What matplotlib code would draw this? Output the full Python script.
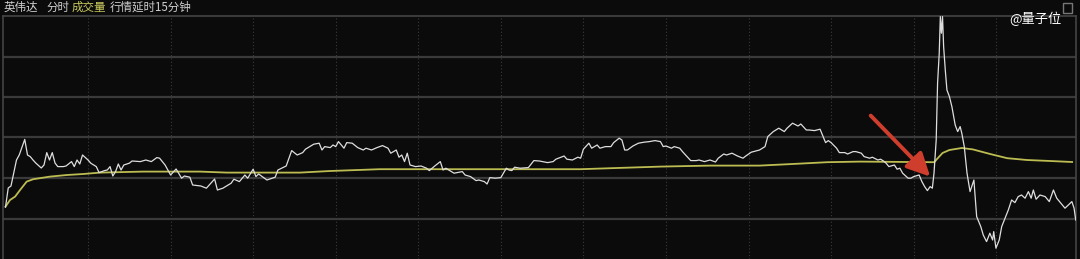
import matplotlib
matplotlib.use("Agg")
import matplotlib.pyplot as plt
from matplotlib.patches import FancyArrowPatch, Rectangle

plt.rcParams['font.family'] = ['Noto Sans CJK SC', 'DejaVu Sans']

# 分时价格（分钟, 价格）
price_min = [0, 1, 2, 4, 5, 7, 8, 9, 10, 11, 13, 14, 15, 16, 17, 18, 19, 21, 22, 24,
             25, 26, 27, 28, 30, 31, 33, 34, 36, 37, 38, 39, 40, 41, 42, 43, 45, 46, 49, 51,
             53, 55, 56, 58, 60, 62, 64, 65, 67, 68, 71, 73, 76, 77, 79, 82, 83, 85, 87, 88,
             90, 91, 92, 95, 98, 99, 102, 104, 106, 108, 109, 112, 114, 115, 116, 118, 119, 120, 121, 123,
             124, 126, 128, 130, 131, 133, 135, 137, 139, 140, 142, 143, 144, 145, 146, 147, 149, 151, 153, 154,
             156, 158, 159, 160, 162, 163, 166, 167, 169, 171, 172, 174, 175, 176, 178, 180, 182, 183, 184, 185,
             187, 190, 192, 194, 197, 199, 200, 203, 204, 206, 208, 209, 210, 212, 213, 215, 216, 218, 220, 221,
             223, 224, 225, 226, 228, 230, 232, 234, 236, 238, 239, 240, 242, 243, 245, 246, 249, 251, 252, 254,
             256, 258, 259, 261, 262, 264, 266, 268, 269, 271, 274, 276, 277, 279, 281, 283, 284, 286, 288, 289,
             291, 292, 294, 296, 297, 298, 299, 300, 302, 303, 305, 306, 308, 309, 311, 312, 314, 315, 317, 318,
             319, 320, 321, 323, 324, 325, 326, 328, 329, 330, 332, 333, 334, 335, 336, 336.8, 337.4, 338.2, 338.7, 339.3,
             339.7, 340.1, 340.5, 340.9, 341.5, 342.1, 343.0, 343.9, 345.1, 346.0, 346.9, 347.5, 348.4, 349.4, 350.5, 351.9,
             352.9, 354.4, 355.3, 356.5, 357.7, 358.7, 359.1, 359.9, 361.1, 362.0, 363.2, 364.4, 365.6, 366.8, 368.0, 369.2,
             370.5, 371.7, 372.7, 373.5, 374.5, 375.9, 377.8, 379.3, 380.8, 382.0, 383.5, 385.0, 386.2, 387.5, 388.3, 388.9]
price = [100.59, 101.55, 101.65, 102.95, 103.20, 103.98, 103.20, 103.12, 102.95, 102.80, 102.55, 102.70, 103.32, 102.95, 103.32, 102.80, 102.62, 102.62, 102.65, 102.87,
         102.62, 102.95, 102.75, 103.20, 102.95, 102.79, 102.62, 102.32, 102.42, 102.45, 102.62, 102.15, 102.37, 102.75, 102.45, 102.70, 102.79, 102.90, 102.87, 102.95,
         102.87, 103.07, 103.04, 102.70, 102.20, 102.50, 102.04, 102.15, 102.09, 101.70, 101.65, 101.54, 102.00, 101.45, 101.54, 101.79, 101.99, 101.87, 102.20, 102.04,
         102.49, 102.12, 102.25, 101.95, 102.09, 102.45, 102.65, 103.42, 103.20, 103.32, 103.49, 103.74, 103.79, 103.45, 103.62, 103.57, 103.70, 103.62, 103.87, 103.54,
         103.82, 103.79, 103.57, 103.45, 103.54, 103.45, 103.57, 103.67, 103.54, 103.29, 103.45, 103.09, 103.20, 102.87, 103.29, 102.70, 102.62, 102.65, 102.54, 102.42,
         102.65, 102.87, 102.45, 102.54, 102.37, 102.29, 102.37, 102.20, 102.12, 101.92, 101.95, 101.87, 101.75, 102.07, 102.04, 102.07, 102.54, 102.45, 102.42, 102.59,
         102.54, 102.57, 102.92, 102.90, 102.82, 102.87, 102.99, 103.15, 102.99, 102.95, 103.09, 103.04, 103.49, 103.79, 103.54, 103.70, 103.54, 103.62, 103.62, 103.82,
         104.04, 103.95, 103.45, 103.45, 103.65, 103.79, 103.84, 103.87, 103.92, 103.87, 103.62, 103.65, 103.54, 103.62, 103.54, 103.37, 102.92, 102.92, 102.95, 102.87,
         102.95, 102.85, 103.04, 103.25, 103.20, 103.29, 103.15, 103.04, 103.15, 103.34, 103.45, 103.62, 104.12, 104.37, 104.54, 104.37, 104.54, 104.79, 104.65, 104.75,
         104.45, 104.45, 104.42, 104.49, 104.15, 103.82, 103.92, 103.82, 103.54, 103.32, 103.32, 103.25, 103.37, 103.37, 103.29, 103.12, 103.04, 103.09, 102.95, 102.99,
         102.90, 102.79, 102.62, 102.70, 102.49, 102.54, 102.29, 102.04, 102.04, 102.12, 102.20, 101.87, 101.62, 101.42, 101.62, 101.54, 102.29, 103.95, 106.79, 108.29,
         110.12, 109.29, 110.12, 108.62, 107.45, 106.45, 106.12, 105.62, 104.70, 104.37, 104.62, 104.29, 103.62, 102.29, 101.37, 101.95,
         100.12, 99.62, 99.20, 98.87, 99.29, 98.95, 99.37, 98.54, 98.95, 99.62, 100.04, 100.45, 100.95, 100.82, 101.12, 101.20,
         101.04, 101.37, 101.04, 101.45, 100.99, 101.20, 101.12, 100.87, 101.45, 101.04, 100.79, 100.54, 100.70, 100.87, 100.54, 99.95]

# 均价线
avg_min = [0, 1.65, 3.5, 5.3, 7.7, 10.1, 16.2, 22.3, 28.3, 34.4, 50, 70.7, 80.4, 107, 118, 136,
           209, 220, 238, 256, 274, 286, 298.6, 310.5, 337.5, 338.5, 340.5, 343, 347.5, 351.5,
           357.8, 364, 371.2, 379.6, 387.6]
avg_price = [100.62, 100.95, 101.12, 101.45, 101.87, 101.99, 102.12, 102.20, 102.25, 102.32, 102.37, 102.37, 102.32, 102.32, 102.40, 102.49,
             102.49, 102.54, 102.62, 102.67, 102.67, 102.75, 102.84, 102.87, 102.84, 103.00, 103.30, 103.45, 103.55, 103.48,
             103.25, 103.04, 102.95, 102.90, 102.85]

grid_levels = [100, 102.05, 104.1, 106.1, 108.1]
time_ticks = [30, 60, 90, 120, 150, 180, 210, 240, 270, 300, 330, 360]
arrow_from = (314.4, 105.17)
arrow_to = (336.0, 102.12)

bg = '#0b0b0b'
fig = plt.figure(figsize=(10.8, 2.59), dpi=100, facecolor=bg)
ax = fig.add_axes([3 / 1080, 0, 1073 / 1080, 1 - 16 / 259])
ax.set_facecolor(bg)
ax.set_xlim(-0.9, 389.0)
ax.set_ylim(98.0, 110.15)

for lv in grid_levels:
    ax.axhline(lv, color='#3a3a3a', lw=1.6, zorder=1)
for t in time_ticks:
    ax.axvline(t, color='#3a3a3a', lw=0.8, ls=(0, (1, 2)), zorder=1)

ax.plot(avg_min, avg_price, color='#bcbc52', lw=1.3, zorder=3)
ax.plot(price_min, price, color='#dedede', lw=0.9, zorder=4)

ax.add_patch(FancyArrowPatch(arrow_from, arrow_to, arrowstyle='-|>,head_length=14,head_width=7',
                             color='#cf3d2c', lw=2.8, zorder=5, shrinkA=0, shrinkB=0))

ax.set_xticks([])
ax.set_yticks([])
for side in ['left', 'top', 'right']:
    ax.spines[side].set_color('#444444')
    ax.spines[side].set_linewidth(1.2)
ax.spines['bottom'].set_visible(False)

# 顶部标题
hy = 1 - 7.5 / 259
fig.text(4 / 1080, hy, '英伟达', color='#cfcfcf', fontsize=8.3, va='center', ha='left')
fig.text(46 / 1080, hy, '分时', color='#cfcfcf', fontsize=8.3, va='center', ha='left')
fig.text(72 / 1080, hy, '成交量', color='#c9c95e', fontsize=8.3, va='center', ha='left')
fig.text(110 / 1080, hy, '行情延时15分钟', color='#cfcfcf', fontsize=8.3, va='center', ha='left')

fig.text(1062 / 1080, 1 - 19 / 259, '@量子位', color='#ffffff', fontsize=9.5, va='center', ha='right')
fig.patches.append(Rectangle((1063 / 1080, 1 - 13 / 259), 9 / 1080, 10 / 259, transform=fig.transFigure,
                             fill=False, edgecolor='#777777', lw=1))

fig.savefig('out.png', dpi=100, facecolor=bg)
